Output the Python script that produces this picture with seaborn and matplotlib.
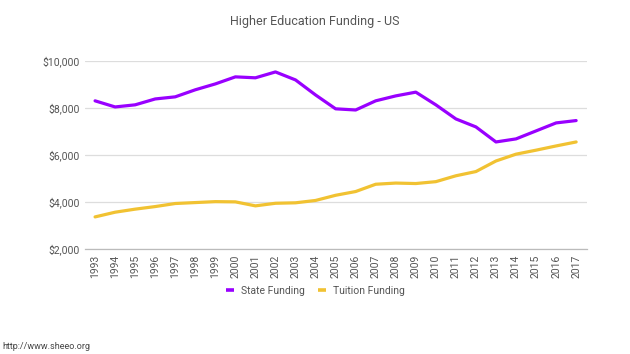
import pandas as pd
import matplotlib.pyplot as plt
import matplotlib.ticker as mticker
import seaborn as sns

# Data
years = list(range(1993, 2018))
state_funding = [8300, 8040, 8130, 8380, 8470, 8770, 9020, 9320, 9280, 9530,
                 9190, 8550, 7960, 7910, 8300, 8510, 8670, 8130, 7530, 7190,
                 6550, 6680, 7020, 7360, 7460]
tuition_funding = [3360, 3560, 3690, 3800, 3930, 3970, 4010, 4000, 3830, 3940,
                   3960, 4060, 4280, 4440, 4750, 4800, 4780, 4860, 5110, 5290,
                   5740, 6030, 6200, 6380, 6550]

df = pd.DataFrame({
    "Year": years * 2,
    "Value": state_funding + tuition_funding,
    "Series": ["State Funding"] * len(years) + ["Tuition Funding"] * len(years),
})

sns.set_style("white")
plt.rcParams["font.family"] = ["Roboto", "DejaVu Sans"]

fig = plt.figure(figsize=(6.3, 3.54), dpi=100)
ax = fig.add_axes([0.135, 0.297, 0.797, 0.531])

palette = {"State Funding": "#9900ff", "Tuition Funding": "#f1c232"}
sns.lineplot(data=df, x="Year", y="Value", hue="Series", palette=palette,
             linewidth=2.3, ax=ax, legend=False)

ax.set_ylim(2000, 10000)
ax.set_xlim(1992.5, 2017.55)
ax.set_yticks([2000, 4000, 6000, 8000, 10000])
ax.yaxis.set_major_formatter(mticker.FuncFormatter(lambda v, p: f"${v:,.0f}"))
ax.set_xticks(years)
ax.set_xticklabels([str(y) for y in years], rotation=90)
ax.tick_params(axis="both", labelsize=7.5, colors="#555555", length=0, pad=4)
ax.grid(axis="y", color="#dddddd", linewidth=0.9)
ax.set_axisbelow(True)
for s in ["top", "right", "left"]:
    ax.spines[s].set_visible(False)
ax.spines["bottom"].set_color("#bbbbbb")
ax.spines["bottom"].set_linewidth(0.9)
ax.set_xlabel("")
ax.set_ylabel("")

fig.text(0.5, 0.94, "Higher Education Funding - US", ha="center", va="center",
         fontsize=9, color="#555555")

handles = [plt.Line2D([], [], color=palette[k], linewidth=2.6,
                      solid_capstyle="butt") for k in palette]
fig.legend(handles, list(palette), loc="center", bbox_to_anchor=(0.5, 0.178),
           ncol=2, frameon=False, fontsize=7.5, handlelength=0.8,
           columnspacing=1.25, handletextpad=0.65, labelcolor="#555555")

fig.text(0.003, 0.022, "http://www.sheeo.org", ha="left", va="center",
         fontsize=6.5, color="#444444")

fig.savefig("out.png", dpi=100)
